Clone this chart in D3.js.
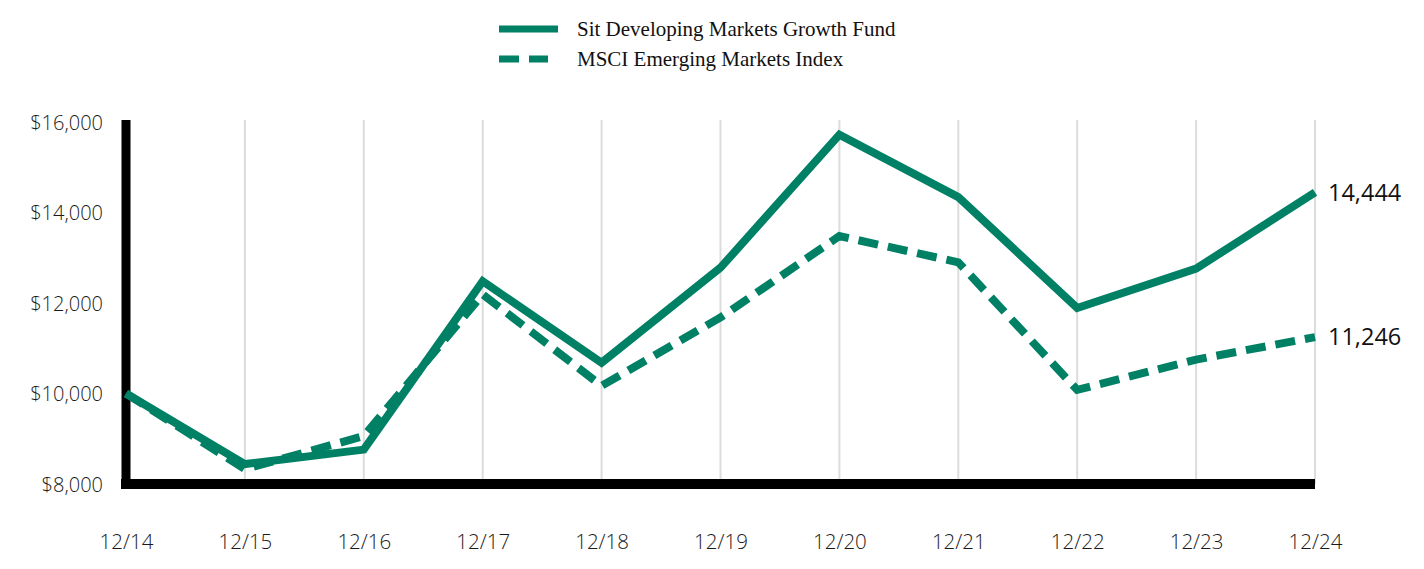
<!DOCTYPE html>
<html>
<head>
<meta charset="utf-8">
<script src="https://cdn.jsdelivr.net/npm/d3@7"></script>
<style>
  html, body { margin: 0; padding: 0; background: #fff; }
  svg { display: block; }
</style>
</head>
<body>
<svg id="chart" width="1424" height="569"></svg>
<script>
const categories = ["12/14","12/15","12/16","12/17","12/18","12/19","12/20","12/21","12/22","12/23","12/24"];
const fundValues = [10000, 8440, 8760, 12480, 10680, 12780, 15720, 14340, 11890, 12760, 14444];
const indexValues = [10000, 8330, 9060, 12190, 10170, 11680, 13480, 12900, 10080, 10750, 11246];
const yTicks = [8000, 10000, 12000, 14000, 16000];
const seriesNames = ["Sit Developing Markets Growth Fund", "MSCI Emerging Markets Index"];

const color = "#008064";
const svg = d3.select("#chart");

const x = d3.scalePoint().domain(categories).range([126, 1315]);
const y = d3.scaleLinear().domain([8000, 16000]).range([484, 122]);

// gridlines
svg.append("g").selectAll("line")
  .data(categories.slice(1))
  .join("line")
  .attr("x1", d => x(d)).attr("x2", d => x(d))
  .attr("y1", y(16000) - 2).attr("y2", y(8000))
  .attr("stroke", "#dcdcdc").attr("stroke-width", 2);

// y axis labels
const yAxis = d3.axisLeft(y).tickValues(yTicks).tickSize(0).tickPadding(0)
  .tickFormat(d => "$" + d3.format(",")(d));
const gy = svg.append("g").attr("transform", "translate(103,0)").call(yAxis);
gy.select(".domain").remove();
gy.selectAll("text").attr("font-family", "'Open Sans', sans-serif").attr("font-size", 20)
  .attr("font-weight", 300).attr("fill", "#1a1a1a").attr("dy", "0.35em");

// x axis labels
const xAxis = d3.axisBottom(x).tickSize(0).tickPadding(0);
const gx = svg.append("g").attr("transform", "translate(0,535)").call(xAxis);
gx.select(".domain").remove();
gx.selectAll("text").attr("font-family", "'Open Sans', sans-serif").attr("font-size", 20.5)
  .attr("font-weight", 300).attr("fill", "#1a1a1a").attr("dy", "0.7em");

// axis lines (thick black)
svg.append("line").attr("x1", 126).attr("x2", 126).attr("y1", y(16000) - 2).attr("y2", y(8000) + 5)
  .attr("stroke", "#000").attr("stroke-width", 9);
svg.append("line").attr("x1", 121).attr("x2", x("12/24")).attr("y1", y(8000)).attr("y2", y(8000))
  .attr("stroke", "#000").attr("stroke-width", 10);

const line = d3.line().x((d, i) => x(categories[i])).y(d => y(d));

svg.append("path").datum(indexValues).attr("d", line)
  .attr("fill", "none").attr("stroke", color).attr("stroke-width", 8)
  .attr("stroke-dasharray", "20,10");
svg.append("path").datum(fundValues).attr("d", line)
  .attr("fill", "none").attr("stroke", color).attr("stroke-width", 8)
  .attr("stroke-linejoin", "miter");

// end labels
const last = categories.length - 1;
[[fundValues[last]], [indexValues[last]]].forEach(([v]) => {
  svg.append("text").attr("x", x(categories[last]) + 13).attr("y", y(v)).attr("dy", "0.35em")
    .attr("font-family", "'Open Sans', sans-serif").attr("font-size", 23.5).attr("fill", "#111")
    .text(d3.format(",")(v));
});

// legend
const legend = svg.append("g");
legend.append("line").attr("x1", 499).attr("x2", 558).attr("y1", 29).attr("y2", 29)
  .attr("stroke", color).attr("stroke-width", 7);
legend.append("line").attr("x1", 499).attr("x2", 548).attr("y1", 59).attr("y2", 59)
  .attr("stroke", color).attr("stroke-width", 7).attr("stroke-dasharray", "20,10");
seriesNames.forEach((n, i) => {
  legend.append("text").attr("x", 577).attr("y", 29 + i * 30).attr("dy", "0.35em")
    .attr("font-family", "'Liberation Serif', 'Times New Roman', serif").attr("font-size", 21)
    .attr("fill", "#111").text(n);
});
</script>
</body>
</html>
